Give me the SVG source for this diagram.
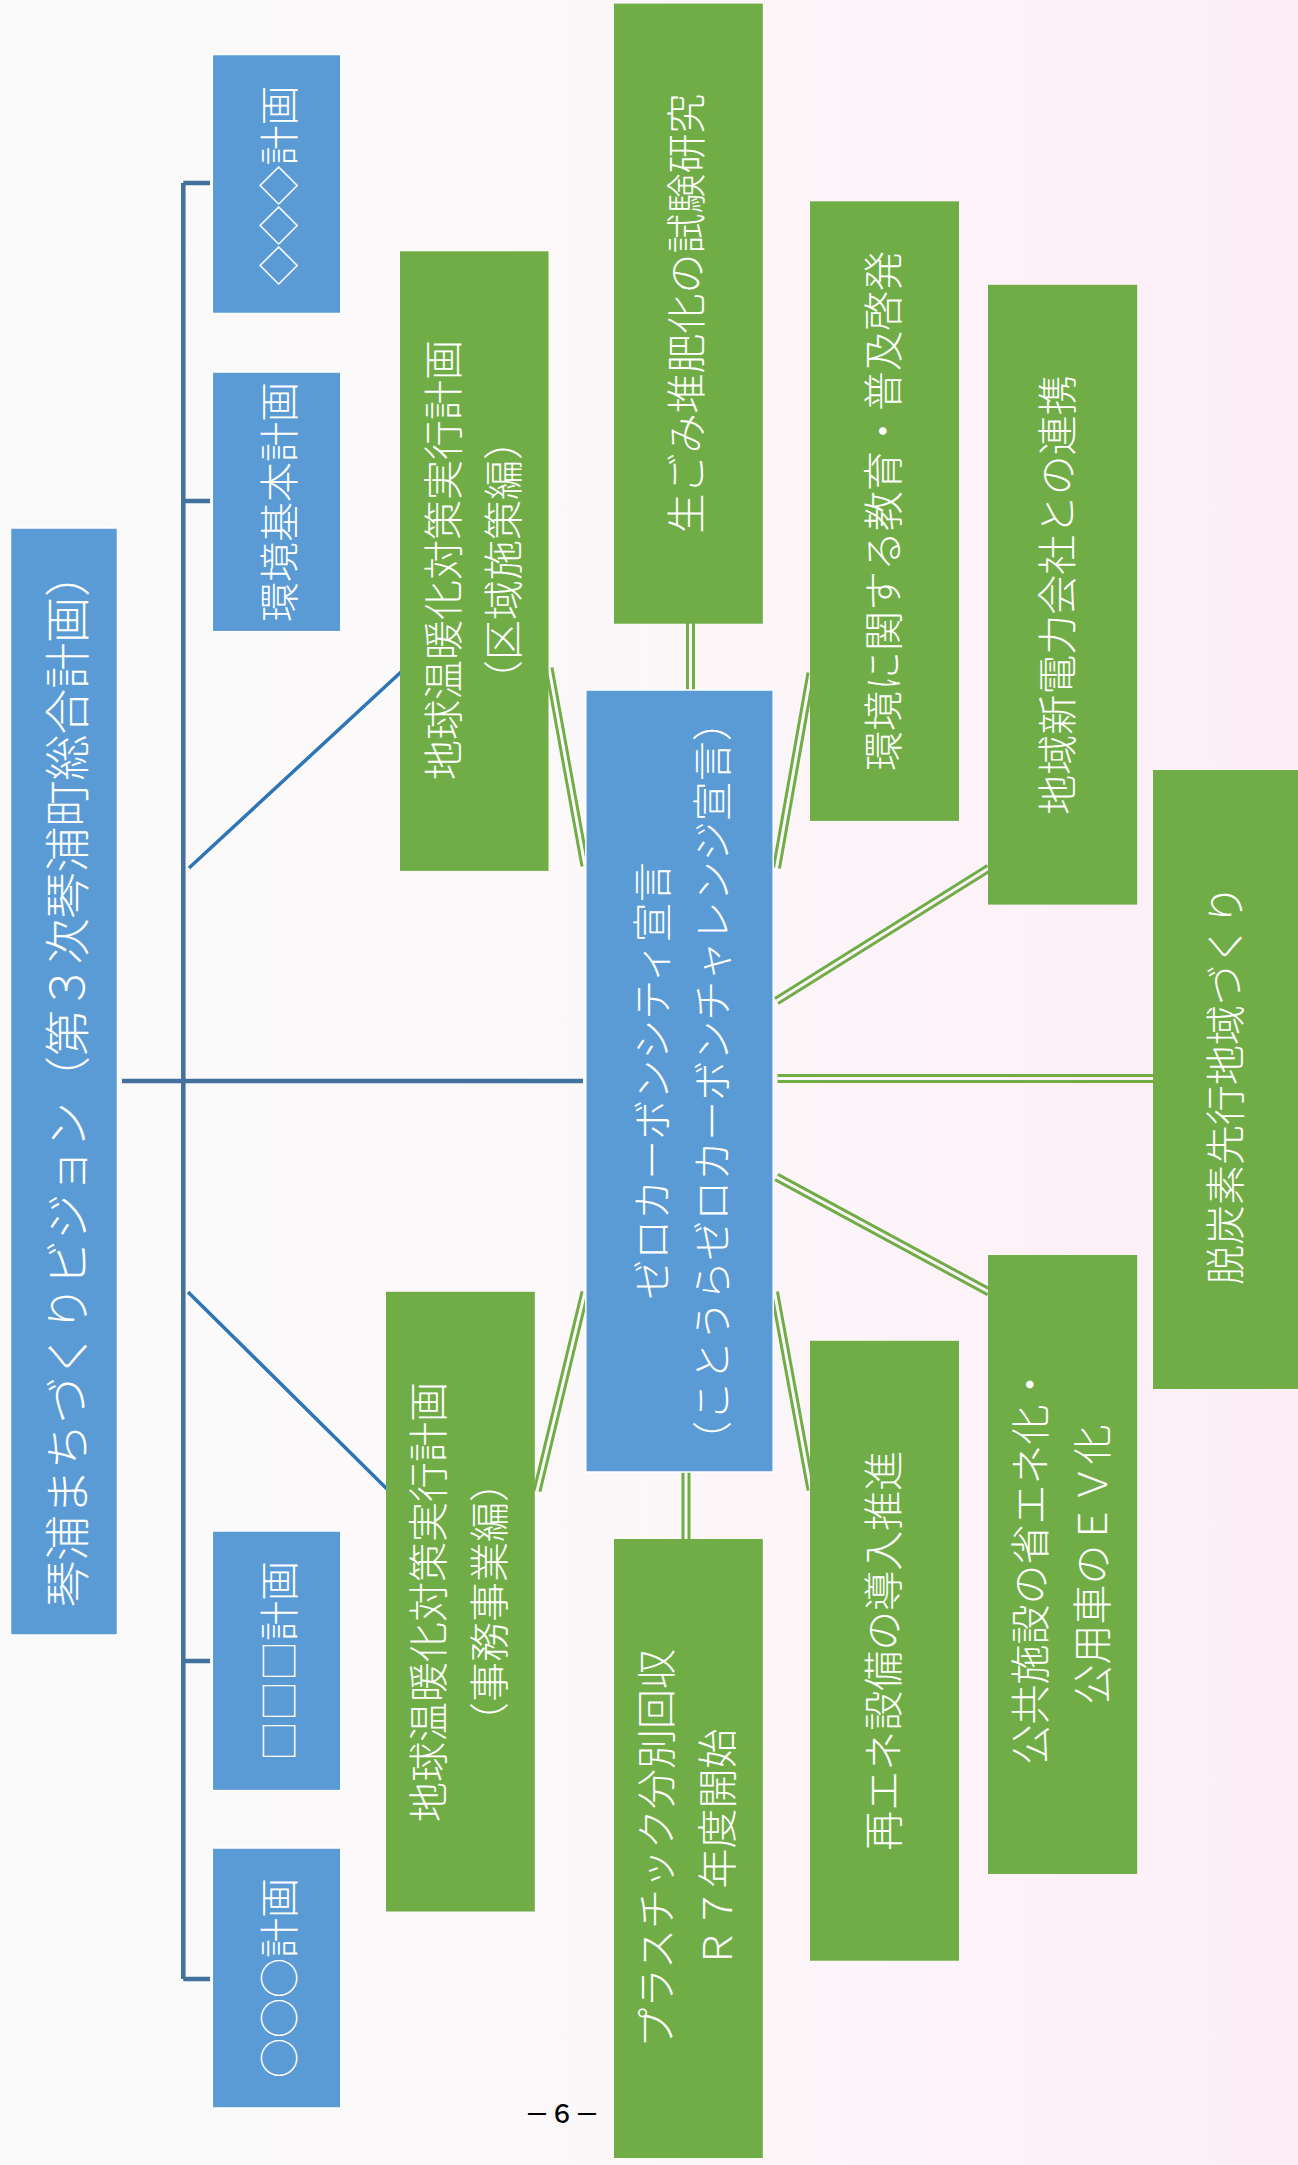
<svg xmlns="http://www.w3.org/2000/svg" width="1298" height="2165" viewBox="0 0 1298 2165">
<defs>
<linearGradient id="bg" gradientUnits="userSpaceOnUse" x1="0" y1="0" x2="1298" y2="0">
<stop offset="0" stop-color="#fafafa"/>
<stop offset="0.45" stop-color="#fcf8f9"/>
<stop offset="1" stop-color="#fdeef8"/>
</linearGradient>
<style>
.blue{fill:#5b9bd5;stroke:#ffffff;stroke-width:1.5}
.green{fill:#70ad47}
.t{font-family:"Noto Sans CJK JP","Noto Sans",sans-serif;font-size:40px;fill:#ffffff;text-anchor:middle;dominant-baseline:central;font-weight:300}
.bus{stroke:#41719c;stroke-width:4.5;fill:none}
.diag{stroke:#2e75b6;stroke-width:3.5;fill:none}
.dbo{stroke:#70ad47;stroke-width:9;fill:none}
.dbi{stroke:url(#bg);stroke-width:3;fill:none}
</style>
</defs>
<rect x="0" y="0" width="1298" height="2165" fill="url(#bg)"/>
<g id="connectors">
<path class="bus" d="M183.3,183 V1979 M183.3,183 H210 M183.3,501 H210 M183.3,1661 H210 M183.3,1979 H210 M122,1081 H583"/>
<path class="diag" d="M189,868 L401,672 M188,1292 L387,1489"/>
<g id="dbl">
<path class="dbo" d="M690.5,623 V690 M686,1472 V1539 M549,668 L585,866 M585,1292 L537,1491 M776.5,868 L811,673 M776.5,1001 L989,868 M777.5,1078.6 H1154 M776.5,1177 L989,1292 M774.5,1292 L811,1490"/>
<path class="dbi" d="M690.5,623 V690 M686,1472 V1539 M549,668 L585,866 M585,1292 L537,1491 M776.5,868 L811,673 M776.5,1001 L989,868 M777.5,1078.6 H1154 M776.5,1177 L989,1292 M774.5,1292 L811,1490"/>
</g>
</g>
<g id="main">
<rect class="blue" x="10.5" y="528" width="107" height="1107"/>
<text class="t" style="font-size:46px" textLength="1056" lengthAdjust="spacing" transform="translate(64,1079) rotate(-90)">琴浦まちづくりビジョン（第３次琴浦町総合計画）</text>
</g>
<g id="plan-diamond">
<rect class="blue" x="212.3" y="54.5" width="128.5" height="259"/>
<text class="t" transform="translate(277,185.5) rotate(-90)">◇◇◇計画</text>
</g>
<g id="plan-env">
<rect class="blue" x="212.3" y="372" width="128.5" height="259.7"/>
<text class="t" transform="translate(277,502) rotate(-90)">環境基本計画</text>
</g>
<g id="plan-square">
<rect class="blue" x="212.3" y="1531" width="128.5" height="259.6"/>
<text class="t" transform="translate(277,1661) rotate(-90)">□□□計画</text>
</g>
<g id="plan-circle">
<rect class="blue" x="212.3" y="1848" width="128.5" height="260"/>
<text class="t" transform="translate(277,1978) rotate(-90)">○○○計画</text>
</g>
<g id="plan-area">
<rect class="green" x="400" y="251.3" width="148.5" height="619.6"/>
<text class="t" transform="translate(441,560) rotate(-90)">地球温暖化対策実行計画</text>
<text class="t" transform="translate(500.5,560) rotate(-90)">（区域施策編）</text>
</g>
<g id="plan-office">
<rect class="green" x="386" y="1291.8" width="148.8" height="619.7"/>
<text class="t" transform="translate(426,1602) rotate(-90)">地球温暖化対策実行計画</text>
<text class="t" transform="translate(487,1602) rotate(-90)">（事務事業編）</text>
</g>
<g id="center">
<rect class="blue" x="585.8" y="690" width="187.4" height="782"/>
<text class="t" transform="translate(650,1081) rotate(-90)">ゼロカーボンシティ宣言</text>
<text class="t" transform="translate(710,1081) rotate(-90)">（ことうらゼロカーボンチャレンジ宣言）</text>
</g>
<g id="compost">
<rect class="green" x="614" y="3.6" width="148.8" height="620.1"/>
<text class="t" transform="translate(684,313.6) rotate(-90)">生ごみ堆肥化の試験研究</text>
</g>
<g id="plastic">
<rect class="green" x="614" y="1539" width="148.8" height="619"/>
<text class="t" transform="translate(653.5,1848.5) rotate(-90)">プラスチック分別回収</text>
<text class="t" transform="translate(715,1848.5) rotate(-90)">Ｒ７年度開始</text>
</g>
<g id="education">
<rect class="green" x="810" y="201.3" width="149" height="619.6"/>
<text class="t" transform="translate(881,511) rotate(-90)">環境に関する教育・普及啓発</text>
</g>
<g id="renewable">
<rect class="green" x="810" y="1340.8" width="149" height="619.9"/>
<text class="t" transform="translate(881,1650.7) rotate(-90)">再エネ設備の導入推進</text>
</g>
<g id="power">
<rect class="green" x="988" y="284.8" width="149.2" height="619.8"/>
<text class="t" transform="translate(1055,595) rotate(-90)">地域新電力会社との連携</text>
</g>
<g id="public">
<rect class="green" x="988" y="1255" width="149.2" height="619"/>
<text class="t" transform="translate(1028.4,1564.6) rotate(-90)">公共施設の省エネ化・</text>
<text class="t" transform="translate(1089.5,1564.6) rotate(-90)">公用車のＥＶ化</text>
</g>
<g id="decarbon">
<rect class="green" x="1153" y="770" width="149" height="619"/>
<text class="t" transform="translate(1223,1085) rotate(-90)">脱炭素先行地域づくり</text>
</g>
<text x="562" y="2123" font-family="'Noto Sans CJK JP','Noto Sans',sans-serif" font-size="25" font-weight="500" text-anchor="middle" fill="#000000">－６－</text>
</svg>
